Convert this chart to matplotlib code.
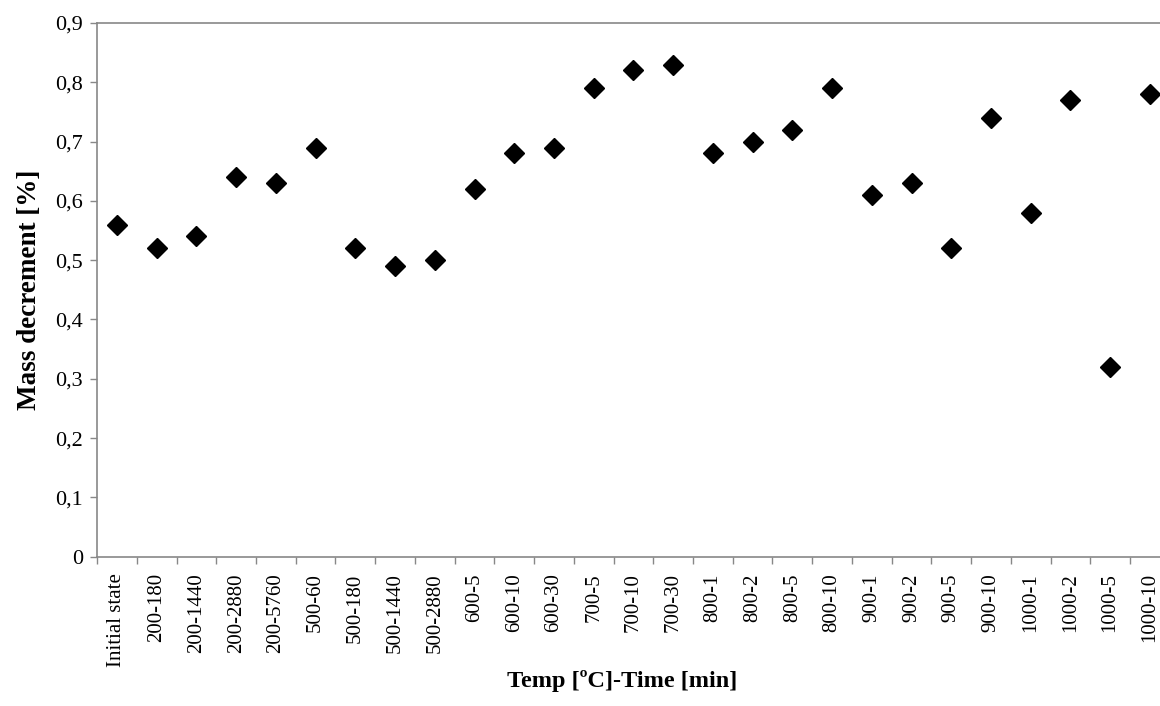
import numpy as np
import matplotlib.pyplot as plt
from matplotlib.ticker import FixedLocator, FuncFormatter

plt.rcParams['font.family'] = ['Liberation Serif', 'DejaVu Serif']

labels = ['Initial state', '200-180', '200-1440', '200-2880', '200-5760',
          '500-60', '500-180', '500-1440', '500-2880', '600-5', '600-10',
          '600-30', '700-5', '700-10', '700-30', '800-1', '800-2', '800-5',
          '800-10', '900-1', '900-2', '900-5', '900-10', '1000-1', '1000-2',
          '1000-5', '1000-10']
mass_dec = [0.56, 0.52, 0.54, 0.64, 0.63, 0.69, 0.52, 0.49, 0.50, 0.62,
            0.68, 0.69, 0.79, 0.82, 0.83, 0.68, 0.70, 0.72, 0.79, 0.61,
            0.63, 0.52, 0.74, 0.58, 0.77, 0.32, 0.78]

x = np.arange(len(labels))

fig = plt.figure(figsize=(11.6, 7.06), dpi=100)
# plot area runs past the right edge of the picture, as in the original
ax = fig.add_axes([0.0837, 0.2115, 0.9247, 0.7559])

ax.plot(x, mass_dec, linestyle='none', marker='D', markersize=10,
        color='black', clip_on=False)

ax.set_xlim(-0.5, len(labels) - 0.5)
ax.set_ylim(0, 0.9)

# ticks between categories, labels at centers
ax.xaxis.set_major_locator(FixedLocator(np.arange(len(labels) + 1) - 0.5))
ax.xaxis.set_major_formatter(FuncFormatter(lambda v, p: ''))
ax.set_xticks(x, labels, minor=True, rotation=90, fontsize=15)
ax.tick_params(axis='x', which='minor', length=0, pad=12)
ax.tick_params(axis='x', which='major', length=5, width=1, color='#888888')

ax.set_yticks(np.arange(0, 0.91, 0.1))
ax.yaxis.set_major_formatter(FuncFormatter(
    lambda v, p: '0' if abs(v) < 1e-9 else f'{v:.1f}'.replace('.', ',')))
ax.tick_params(axis='y', length=5, width=1, color='#888888', labelsize=16, pad=5)

for side in ['left', 'bottom', 'top']:
    ax.spines[side].set_color('#888888')
    ax.spines[side].set_linewidth(1.2)
ax.spines['right'].set_visible(False)

ax.set_ylabel('Mass decrement [%]', fontsize=19.5, fontweight='bold', labelpad=10)
fig.text(0.536, 0.035, 'Temp [ºC]-Time [min]', fontsize=17.5, fontweight='bold',
         ha='center', va='center')

fig.savefig('out.png', dpi=100)
